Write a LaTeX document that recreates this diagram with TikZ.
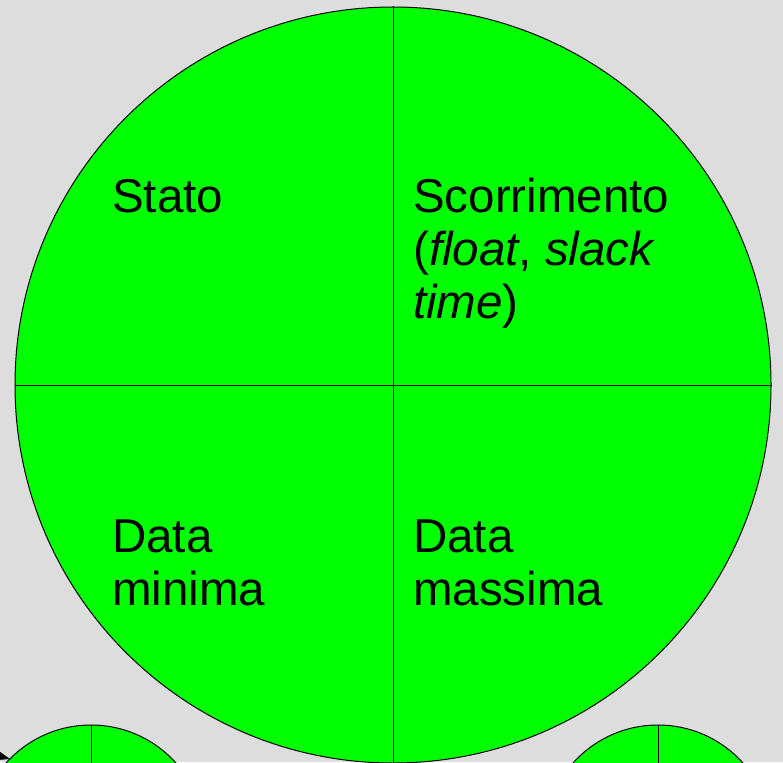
\documentclass[tikz,border=0pt]{standalone}
\usepackage{fontspec}
\setmainfont{Liberation Sans}
\usetikzlibrary{arrows.meta}
\definecolor{bg}{HTML}{DDDDDD}
\definecolor{nodegreen}{HTML}{00FF00}
\tikzset{
  disc/.style={circle, draw=black, line width=1pt, fill=nodegreen, inner sep=0pt},
  divider/.style={draw=black, line width=1pt},
  lbl/.style={anchor=base west, inner sep=0pt, font=\fontsize{47.5}{53}\selectfont},
}
\begin{document}
\begin{tikzpicture}[x=1pt, y=-1pt]
\useasboundingbox (0,0) rectangle (783,762);
\fill[bg] (0,0) rectangle (783,762);
\clip (0,0) rectangle (783,762);
% small discs at bottom
\node[disc, minimum size=228pt] (sl) at (91,839) {};
\draw[divider] (sl.north) -- (sl.south);
\node[disc, minimum size=228pt] (sr) at (658,839) {};
\draw[divider] (sr.north) -- (sr.south);
% incoming arrow on left disc
\coordinate (ain) at (-40,745);
\coordinate (aend) at (10,759);
\draw[line width=1pt, -{Triangle[length=14pt,width=10pt]}] (ain) -- (aend);
% big disc
\node[disc, minimum size=756pt] (big) at (393,385) {};
\draw[divider] (big.north) -- (big.south);
\draw[divider] (big.west) -- (big.east);
% labels
\node[lbl] (stato) at (112,212) {Stato};
\node[lbl] (sc1) at (413,212) {Scorrimento};
\node[lbl] (sc2) at (413,265) {(\textit{float}, \textit{slack}};
\node[lbl] (sc3) at (413,318) {\textit{time})};
\node[lbl] (dmin1) at (112,552) {Data};
\node[lbl] (dmin2) at (112,605) {minima};
\node[lbl] (dmax1) at (413,552) {Data};
\node[lbl] (dmax2) at (413,605) {massima};
\end{tikzpicture}
\end{document}
